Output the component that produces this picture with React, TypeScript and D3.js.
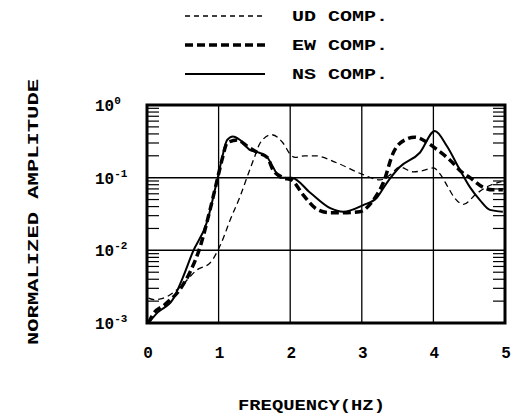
import React from "react";
import * as d3 from "d3";

const freqNS = [0.02, 0.15, 0.36, 0.5, 0.64, 0.84, 0.98, 1.05, 1.12, 1.2, 1.3, 1.44, 1.54, 1.68, 1.76, 1.86, 2.02, 2.28, 2.56, 2.74, 3.02, 3.21, 3.35, 3.53, 3.81, 4.02, 4.19, 4.37, 4.51, 4.65, 4.79, 4.97];
const ampNS = [0.001, 0.0014, 0.0021, 0.0042, 0.0095, 0.025, 0.093, 0.19, 0.33, 0.37, 0.33, 0.24, 0.225, 0.19, 0.14, 0.1, 0.1, 0.062, 0.038, 0.034, 0.042, 0.053, 0.085, 0.14, 0.22, 0.44, 0.27, 0.128, 0.074, 0.049, 0.036, 0.034];

const freqEW = [0.02, 0.08, 0.25, 0.46, 0.6, 0.74, 0.88, 0.98, 1.05, 1.12, 1.26, 1.4, 1.55, 1.68, 1.76, 1.9, 2.02, 2.18, 2.37, 2.55, 2.74, 2.97, 3.16, 3.3, 3.44, 3.6, 3.74, 3.88, 4.0, 4.23, 4.41, 4.51, 4.69, 4.83, 4.97];
const ampEW = [0.001, 0.0013, 0.0018, 0.0029, 0.005, 0.011, 0.036, 0.093, 0.18, 0.3, 0.33, 0.27, 0.22, 0.19, 0.128, 0.1, 0.093, 0.058, 0.037, 0.033, 0.033, 0.034, 0.049, 0.085, 0.22, 0.33, 0.36, 0.32, 0.265, 0.175, 0.116, 0.1, 0.074, 0.068, 0.068];

const freqUD = [0.02, 0.1, 0.23, 0.46, 0.7, 0.88, 0.99, 1.08, 1.16, 1.3, 1.41, 1.5, 1.58, 1.74, 1.9, 2.0, 2.07, 2.2, 2.35, 2.65, 3.02, 3.25, 3.4, 3.53, 3.72, 3.85, 4.0, 4.1, 4.2, 4.3, 4.42, 4.6, 4.75, 4.95];
const ampUD = [0.0022, 0.0021, 0.0022, 0.0031, 0.0054, 0.0067, 0.01, 0.016, 0.026, 0.055, 0.11, 0.19, 0.3, 0.39, 0.3, 0.21, 0.19, 0.2, 0.2, 0.16, 0.11, 0.093, 0.11, 0.14, 0.12, 0.125, 0.136, 0.11, 0.075, 0.052, 0.043, 0.06, 0.075, 0.088];

const xTicks = [0, 1, 2, 3, 4, 5];
const yExponents = [0, -1, -2, -3];
const legendLabels = ["UD COMP.", "EW COMP.", "NS COMP."];

const L = 147, R = 505, T = 105, B = 323;
const FONT = "'Liberation Mono', 'DejaVu Sans Mono', monospace";

export default function App() {
  const x = d3.scaleLinear().domain([0, 5]).range([L, R]);
  const y = d3.scaleLog().domain([0.001, 1]).range([B, T]);
  const line = d3
    .line<[number, number]>()
    .x((d) => x(d[0]))
    .y((d) => y(d[1]))
    .curve(d3.curveMonotoneX);

  const ns = freqNS.map((f, i) => [f, ampNS[i]] as [number, number]);
  const ew = freqEW.map((f, i) => [f, ampEW[i]] as [number, number]);
  const ud = freqUD.map((f, i) => [f, ampUD[i]] as [number, number]);

  const minor: number[] = [];
  for (let e = -3; e < 0; e++) for (let m = 2; m <= 9; m++) minor.push(m * Math.pow(10, e));

  const styles = [
    { w: 1.3, dash: "5,4" },
    { w: 3.5, dash: "8,4" },
    { w: 2, dash: "" },
  ];
  const legendY = [16, 45, 74];

  return (
    <svg width={511} height={417} style={{ position: "absolute", left: 0, top: 0, background: "#fff" }}>
      <rect x={0} y={0} width={511} height={417} fill="#fff" />
      {/* legend */}
      {legendLabels.map((lab, i) => (
        <g key={lab}>
          <line x1={185} x2={265} y1={legendY[i]} y2={legendY[i]} stroke="#000" strokeWidth={styles[i].w} strokeDasharray={styles[i].dash || undefined} />
          <text x={292} y={legendY[i] + 5} fontFamily={FONT} fontWeight="bold" fontSize={15} textLength={96} lengthAdjust="spacingAndGlyphs">{lab}</text>
        </g>
      ))}
      {/* grid */}
      {xTicks.slice(1, -1).map((t) => (
        <line key={"gx" + t} x1={x(t)} x2={x(t)} y1={T} y2={B} stroke="#000" strokeWidth={1.3} />
      ))}
      {yExponents.slice(1, -1).map((e) => (
        <line key={"gy" + e} x1={L} x2={R} y1={y(Math.pow(10, e))} y2={y(Math.pow(10, e))} stroke="#000" strokeWidth={1.5} />
      ))}
      {/* minor ticks */}
      {minor.map((v) => (
        <g key={"m" + v}>
          <line x1={L} x2={L + 12} y1={y(v)} y2={y(v)} stroke="#000" strokeWidth={1.2} />
          <line x1={R - 12} x2={R} y1={y(v)} y2={y(v)} stroke="#000" strokeWidth={1.2} />
        </g>
      ))}
      {/* curves */}
      <path d={line(ud) || ""} fill="none" stroke="#000" strokeWidth={1.3} strokeDasharray="6,4" />
      <path d={line(ew) || ""} fill="none" stroke="#000" strokeWidth={3.5} strokeDasharray="8,4" />
      <path d={line(ns) || ""} fill="none" stroke="#000" strokeWidth={2} />
      {/* frame */}
      <rect x={L} y={T} width={R - L} height={B - T} fill="none" stroke="#000" strokeWidth={3} />
      {/* y tick labels */}
      {yExponents.map((e) => (
        <text key={"yl" + e} x={95} y={y(Math.pow(10, e)) + 6} fontFamily={FONT} fontWeight="bold" fontSize={16}>
          10
          <tspan dy={-7} fontSize={11}>{e === 0 ? "0" : "-" + Math.abs(e)}</tspan>
        </text>
      ))}
      {/* x tick labels */}
      {xTicks.map((t) => (
        <text key={"xl" + t} x={x(t) + 1} y={358} textAnchor="middle" fontFamily={FONT} fontWeight="bold" fontSize={16}>{t}</text>
      ))}
      {/* axis titles */}
      <text x={238} y={410} fontFamily={FONT} fontWeight="bold" fontSize={15} textLength={147} lengthAdjust="spacingAndGlyphs">FREQUENCY(HZ)</text>
      <text transform="translate(38,212) rotate(-90)" textAnchor="middle" fontFamily={FONT} fontWeight="bold" fontSize={15} textLength={266} lengthAdjust="spacingAndGlyphs">NORMALIZED AMPLITUDE</text>
    </svg>
  );
}
